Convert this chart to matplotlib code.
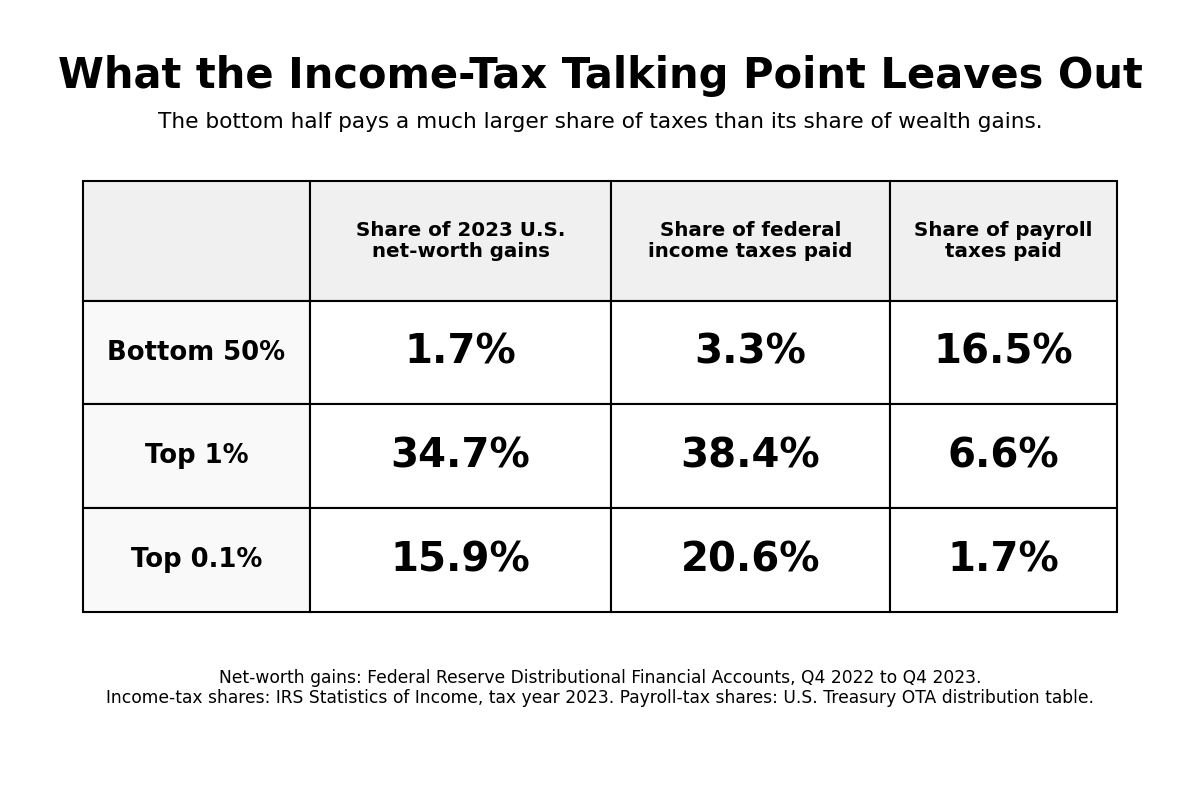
import matplotlib
matplotlib.use("Agg")
import matplotlib.pyplot as plt

# table content
col_labels = ["Share of 2023 U.S.\nnet-worth gains",
              "Share of federal\nincome taxes paid",
              "Share of payroll\ntaxes paid"]
row_labels = ["Bottom 50%", "Top 1%", "Top 0.1%"]
networth_share = [1.7, 34.7, 15.9]
income_tax_share = [3.3, 38.4, 20.6]
payroll_tax_share = [16.5, 6.6, 1.7]

title = "What the Income-Tax Talking Point Leaves Out"
subtitle = "The bottom half pays a much larger share of taxes than its share of wealth gains."
source = ("Net-worth gains: Federal Reserve Distributional Financial Accounts, Q4 2022 to Q4 2023.\n"
          "Income-tax shares: IRS Statistics of Income, tax year 2023. "
          "Payroll-tax shares: U.S. Treasury OTA distribution table.")

fig = plt.figure(figsize=(12, 8.08), dpi=100)
fig.text(0.5, 1 - 76 / 808, title, ha="center", va="center",
         fontsize=30, fontweight="bold")
fig.text(0.5, 1 - 122 / 808, subtitle, ha="center", va="center", fontsize=15.6)
fig.text(0.5, 1 - 688 / 808, source, ha="center", va="center", fontsize=12.3,
         linespacing=1.1)

ax = fig.add_axes([83 / 1200, 1 - 612 / 808, 1034 / 1200, 431 / 808])
ax.axis("off")

cells = [[""] + col_labels]
for i, lab in enumerate(row_labels):
    vals = [networth_share[i], income_tax_share[i], payroll_tax_share[i]]
    cells.append([lab] + [f"{v:.1f}%" for v in vals])

tab = ax.table(cellText=cells, cellLoc="center", bbox=[0, 0, 1, 1])
tab.auto_set_font_size(False)
col_w = [227, 301, 279, 227]
for (r, c), cell in tab.get_celld().items():
    cell.set_width(col_w[c])
    cell.set_height(120 if r == 0 else 104)
    cell.set_edgecolor("black")
    cell.set_linewidth(1.5)
    txt = cell.get_text()
    txt.set_fontweight("bold")
    if r == 0:
        cell.set_facecolor("#f0f0f0")
        txt.set_fontsize(14.3)
        txt.set_linespacing(1.15)
    elif c == 0:
        cell.set_facecolor("#f9f9f9")
        txt.set_fontsize(18.6)
    else:
        cell.set_facecolor("white")
        txt.set_fontsize(29)

fig.savefig("out.png", dpi=100)
